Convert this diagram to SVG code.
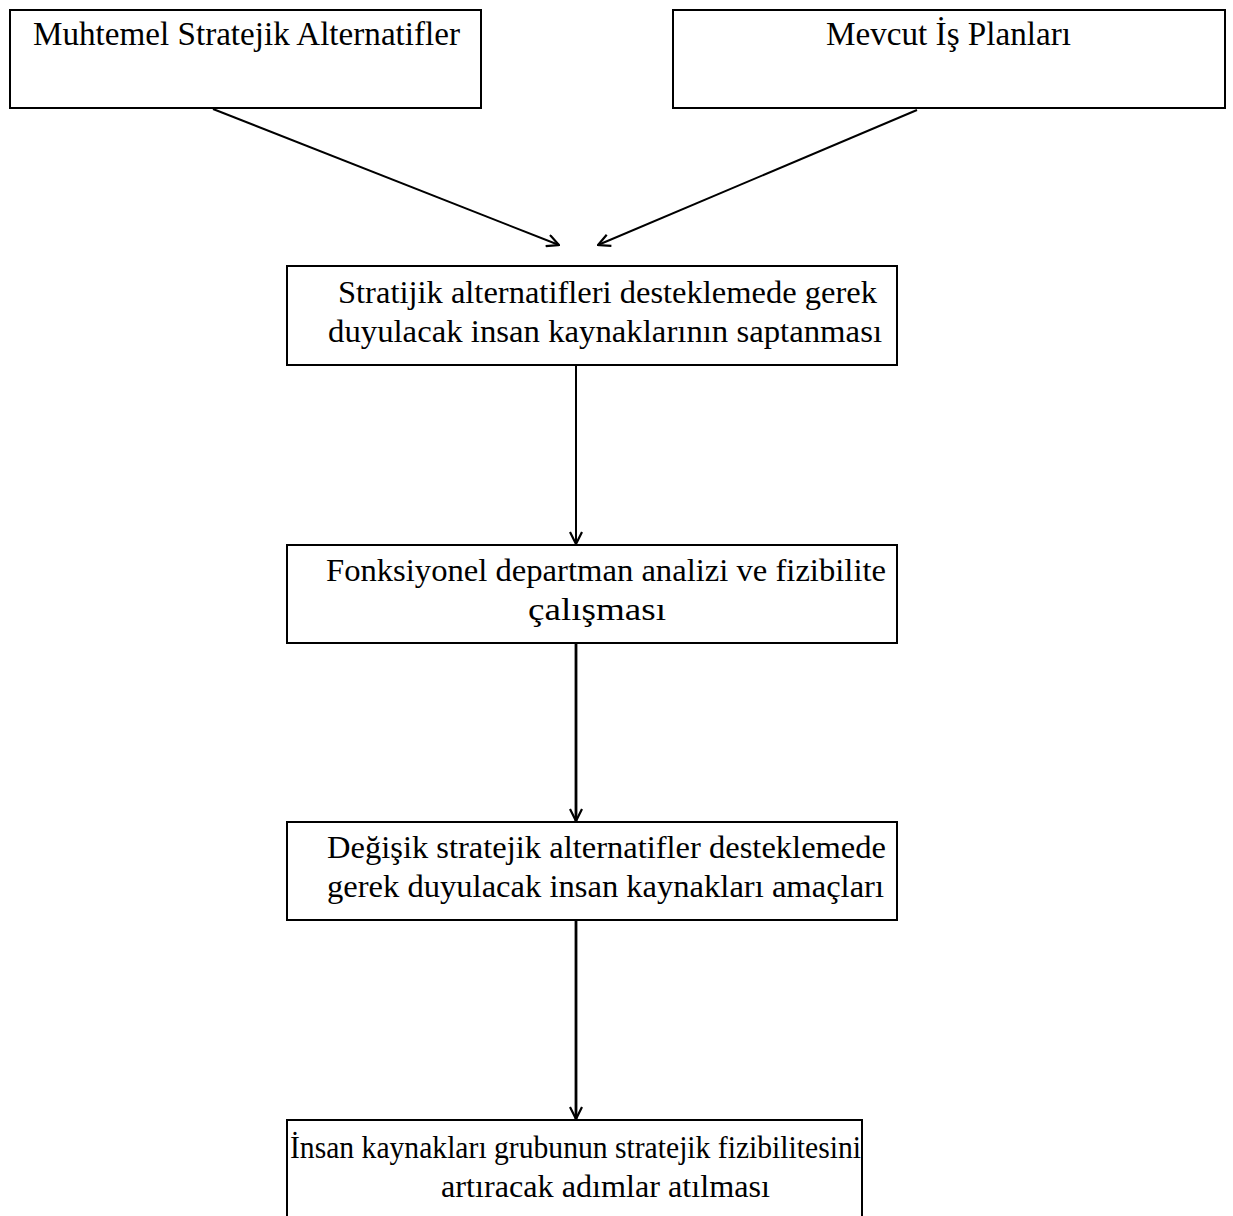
<svg xmlns="http://www.w3.org/2000/svg" width="1233" height="1216" viewBox="0 0 1233 1216">
  <defs>
    <marker id="arrow" viewBox="0 0 14 14" refX="13" refY="7" markerWidth="14" markerHeight="14" markerUnits="userSpaceOnUse" orient="auto">
      <path d="M1,1 L13,7 L1,13" fill="none" stroke="#000" stroke-width="2.2"/>
    </marker>
  </defs>
  <style>
    .box { fill: #fff; stroke: #000; stroke-width: 2; }
    .label { font-family: "Liberation Serif", "Times New Roman", serif; font-size: 31px; fill: #000; }
    .top { font-size: 33px; }
    .edge { fill: none; stroke: #000; stroke-width: 2; }
    .heavy { stroke-width: 2.8; }
  </style>
  <rect width="1233" height="1216" fill="#fff"/>

  <g id="connectors">
    <line class="edge" x1="213" y1="109" x2="559" y2="245" marker-end="url(#arrow)"/>
    <line class="edge" x1="917" y1="110" x2="598" y2="245" marker-end="url(#arrow)"/>
    <line class="edge" x1="576" y1="365" x2="576" y2="544" stroke-width="1.5" marker-end="url(#arrow)"/>
    <line class="edge heavy" x1="576" y1="643" x2="576" y2="821" marker-end="url(#arrow)"/>
    <line class="edge heavy" x1="576" y1="920" x2="576" y2="1119" marker-end="url(#arrow)"/>
  </g>

  <g id="node-muhtemel">
    <rect class="box" x="10" y="10" width="471" height="98"/>
    <text class="label top" x="33" y="45" textLength="427" lengthAdjust="spacingAndGlyphs">Muhtemel Stratejik Alternatifler</text>
  </g>

  <g id="node-mevcut">
    <rect class="box" x="673" y="10" width="552" height="98"/>
    <text class="label top" x="826" y="45" textLength="245" lengthAdjust="spacingAndGlyphs">Mevcut İş Planları</text>
  </g>

  <g id="node-saptanma">
    <rect class="box" x="287" y="266" width="610" height="99"/>
    <text class="label" x="338" y="303" textLength="539" lengthAdjust="spacingAndGlyphs">Stratijik alternatifleri desteklemede gerek</text>
    <text class="label" x="328" y="342" textLength="554" lengthAdjust="spacingAndGlyphs">duyulacak insan kaynaklarının saptanması</text>
  </g>

  <g id="node-fizibilite">
    <rect class="box" x="287" y="545" width="610" height="98"/>
    <text class="label" x="326" y="581" textLength="560" lengthAdjust="spacingAndGlyphs">Fonksiyonel departman analizi ve fizibilite</text>
    <text class="label" x="528" y="620" textLength="138" lengthAdjust="spacingAndGlyphs">çalışması</text>
  </g>

  <g id="node-amaclar">
    <rect class="box" x="287" y="822" width="610" height="98"/>
    <text class="label" x="327" y="858" textLength="559" lengthAdjust="spacingAndGlyphs">Değişik stratejik alternatifler desteklemede</text>
    <text class="label" x="327" y="897" textLength="557" lengthAdjust="spacingAndGlyphs">gerek duyulacak insan kaynakları amaçları</text>
  </g>

  <g id="node-adimlar">
    <path class="box" d="M287,1230 L287,1120 L862,1120 L862,1230"/>
    <text class="label" x="290" y="1158" textLength="571" lengthAdjust="spacingAndGlyphs">İnsan kaynakları grubunun stratejik fizibilitesini</text>
    <text class="label" x="441" y="1197" textLength="329" lengthAdjust="spacingAndGlyphs">artıracak adımlar atılması</text>
  </g>
</svg>
